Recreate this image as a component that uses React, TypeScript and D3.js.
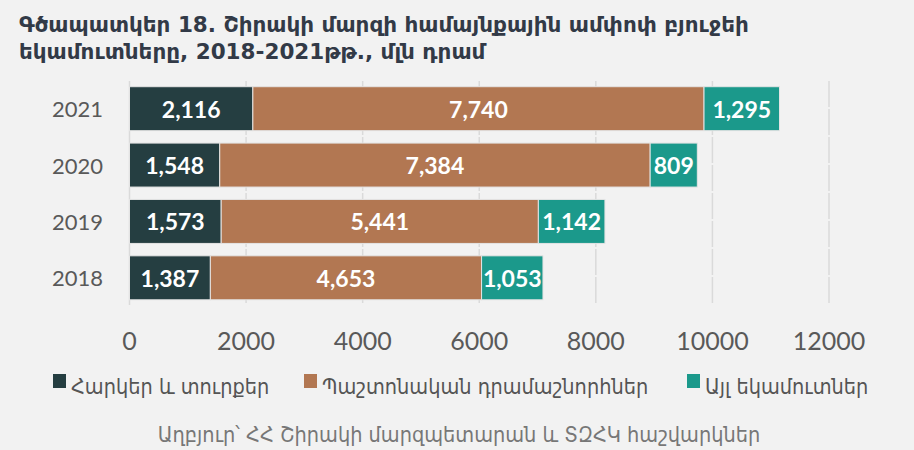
import React from "react";
import * as d3 from "d3";

const years = ["2021", "2020", "2019", "2018"];
const taxes = [2116, 1548, 1573, 1387];
const transfers = [7740, 7384, 5441, 4653];
const other = [1295, 809, 1142, 1053];
const seriesNames = ["Հարկեր և տուրքեր", "Պաշտոնական դրամաշնորհներ", "Այլ եկամուտներ"];
const seriesColors = ["#253e41", "#b27752", "#1b998b"];
const xTicks = [0, 2000, 4000, 6000, 8000, 10000, 12000];
const titleLines = [
  "Գծապատկեր 18. Շիրակի մարզի համայնքային ամփոփ բյուջեի",
  "եկամուտները, 2018-2021թթ., մլն դրամ",
];
const sourceText = "Աղբյուր՝ ՀՀ Շիրակի մարզպետարան և ՏԶՀԿ հաշվարկներ";

const W = 914;
const H = 450;
const ARM = "'DejaVu Sans Condensed', 'DejaVu Sans', 'Noto Sans', sans-serif";
const ARMB = "'DejaVu Sans', 'Noto Sans', sans-serif";
const NUM = "Lato, 'Noto Sans', sans-serif";

export default function App() {
  const x = d3.scaleLinear().domain([0, 12000]).range([129.5, 829]);
  const y = d3.scaleBand<string>().domain(years).range([80.5, 306]).paddingInner(0.22).paddingOuter(0.11);
  const table = years.map((yr, i) => ({ year: yr, s0: taxes[i], s1: transfers[i], s2: other[i] }));
  const stack = d3.stack<any>().keys(["s0", "s1", "s2"])(table);
  const fmt = d3.format(",");

  const legendX = [53, 304, 687];

  return (
    <svg width={W} height={H} style={{ position: "absolute", left: 0, top: 0, display: "block" }}>
      <rect x={0} y={0} width={W} height={H} fill="#f2f2f2" />
      {titleLines.map((t, i) => (
        <text key={i} x={19} y={32 + i * 27} fontFamily={ARMB} fontWeight="bold" fontSize={21.5} fill="#323a47">
          {t}
        </text>
      ))}
      {xTicks.map((t) => (
        <line
          key={t}
          x1={x(t)}
          x2={x(t)}
          y1={81}
          y2={305}
          stroke="#dadada"
          strokeWidth={1.5}
          strokeDasharray={t === 0 ? undefined : "26,2"}
        />
      ))}
      {xTicks.map((t) => (
        <text key={"l" + t} x={x(t)} y={350} textAnchor="middle" fontFamily={NUM} fontSize={25} fill="#595959">
          {t}
        </text>
      ))}
      {years.map((yr) => (
        <text
          key={yr}
          x={103}
          y={(y(yr) as number) + y.bandwidth() / 2 + 8.5}
          textAnchor="end"
          fontFamily={NUM}
          fontSize={22}
          fill="#595959"
        >
          {yr}
        </text>
      ))}
      {stack.map((layer, si) => (
        <g key={si}>
          {layer.map((d: any, i: number) => {
            const x0 = x(d[0]);
            const x1 = x(d[1]);
            const yy = y(years[i]) as number;
            return (
              <g key={i}>
                <rect
                  x={x0}
                  y={yy}
                  width={x1 - x0}
                  height={y.bandwidth()}
                  fill={seriesColors[si]}
                  stroke="#e4e4e4"
                  strokeWidth={1}
                />
                <text
                  x={(x0 + x1) / 2}
                  y={yy + y.bandwidth() / 2 + 9}
                  textAnchor="middle"
                  fontFamily={NUM}
                  fontWeight="bold"
                  fontSize={23}
                  fill="#ffffff"
                >
                  {fmt(d[1] - d[0])}
                </text>
              </g>
            );
          })}
        </g>
      ))}
      {seriesNames.map((n, i) => (
        <g key={n}>
          <rect x={legendX[i]} y={374} width={13} height={14} fill={seriesColors[i]} />
          <text x={legendX[i] + 18} y={394} fontFamily={ARM} fontSize={21.5} fill="#555555">
            {n}
          </text>
        </g>
      ))}
      <text x={459} y={442} textAnchor="middle" fontFamily={ARM} fontSize={21.5} fill="#777777">
        {sourceText}
      </text>
    </svg>
  );
}
